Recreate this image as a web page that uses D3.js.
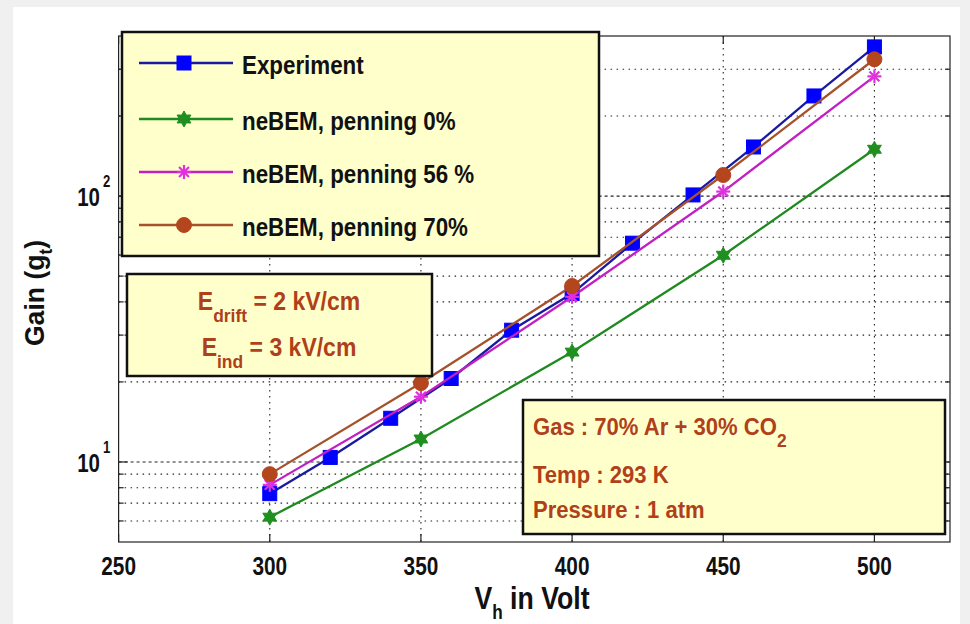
<!DOCTYPE html>
<html><head><meta charset="utf-8">
<script src="https://cdn.jsdelivr.net/npm/d3@7"></script>
<style>body{margin:0;background:#f0f0f0} svg{display:block}</style>
</head><body>
<svg id="chart" width="970" height="624"></svg>
<script>
// Gain vs. hole voltage: measurement and neBEM simulations
const voltsExp = [300, 320, 340, 360, 380, 400, 420, 440, 460, 480, 500];
const gainExp = [7.6, 10.4, 14.6, 20.6, 31.3, 43, 66.5, 101, 153, 238, 364];
const voltsSim = [300, 350, 400, 450, 500];
const gainPen0 = [6.2, 12.2, 25.9, 59.9, 150];
const gainPen56 = [8.2, 17.6, 41.8, 104, 282];
const gainPen70 = [9.0, 19.8, 45.9, 120, 327];
const seriesNames = ["Experiment", "neBEM, penning 0%", "neBEM, penning 56 %", "neBEM, penning 70%"];
const xTicks = [250, 300, 350, 400, 450, 500];
const yMajor = [10, 100];
const yMinor = [6, 7, 8, 9, 20, 30, 40, 50, 60, 70, 80, 90, 200, 300];
const yMajorExp = ["1", "2"];

const svg = d3.select("#chart");
const FONT = "'Liberation Sans', Arial, sans-serif";
const noteColor = "#b0401a";

const plot = {left: 118.6, right: 950, top: 36, bottom: 542};
const x = d3.scaleLinear().domain([250, 525]).range([plot.left, plot.right]);
const y = d3.scaleLog().domain([5, 400]).range([plot.bottom, plot.top]);

// figure background
svg.append("rect").attr("width", 970).attr("height", 624).attr("fill", "#f0f0f0");
svg.append("rect").attr("x", 13).attr("y", 7).attr("width", 947).attr("height", 617).attr("fill", "#ffffff");

// grid
const grid = svg.append("g").attr("stroke", "#222").attr("stroke-width", 1.1).attr("fill", "none");
grid.selectAll("line.v").data(xTicks.slice(1)).join("line")
  .attr("x1", d => x(d)).attr("x2", d => x(d)).attr("y1", plot.top).attr("y2", plot.bottom)
  .attr("stroke-dasharray", "1.5,4.5");
grid.selectAll("line.hmin").data(yMinor).join("line").attr("class", "hmin")
  .attr("x1", plot.left).attr("x2", plot.right).attr("y1", d => y(d)).attr("y2", d => y(d))
  .attr("stroke-dasharray", "1.5,4.5");
grid.selectAll("line.hmaj").data(yMajor).join("line").attr("class", "hmaj")
  .attr("x1", plot.left).attr("x2", plot.right).attr("y1", d => y(d)).attr("y2", d => y(d))
  .attr("stroke-dasharray", "3,3");

// axes box and inward ticks
const axes = svg.append("g").attr("stroke", "#222").attr("stroke-width", 1.2);
axes.append("rect").attr("x", plot.left).attr("y", plot.top)
  .attr("width", plot.right - plot.left).attr("height", plot.bottom - plot.top).attr("fill", "none");
xTicks.forEach(t => {
  axes.append("line").attr("x1", x(t)).attr("x2", x(t)).attr("y1", plot.bottom).attr("y2", plot.bottom - 8);
  axes.append("line").attr("x1", x(t)).attr("x2", x(t)).attr("y1", plot.top).attr("y2", plot.top + 8);
});
[[yMajor, 9], [yMinor, 5]].forEach(([vals, len]) => vals.forEach(v => {
  axes.append("line").attr("x1", plot.left).attr("x2", plot.left + len).attr("y1", y(v)).attr("y2", y(v));
  axes.append("line").attr("x1", plot.right).attr("x2", plot.right - len).attr("y1", y(v)).attr("y2", y(v));
}));

// narrow bold text helper
function condensed(g, px, py, sx, anchor) {
  return g.append("text").attr("transform", `translate(${px},${py}) scale(${sx},1)`)
    .attr("text-anchor", anchor).attr("font-family", FONT).attr("font-weight", "bold");
}

// tick labels
xTicks.forEach(t => {
  condensed(svg, x(t), 575, 0.8, "middle").attr("font-size", 26).attr("fill", "#111").text(d3.format("d")(t));
});
yMajor.forEach((v, i) => {
  condensed(svg, 100, y(v) + 10, 0.82, "end").attr("font-size", 25).attr("fill", "#111").text("10");
  condensed(svg, 103, y(v) - 9, 0.82, "start").attr("font-size", 16).attr("fill", "#111").text(yMajorExp[i]);
});

// axis titles
const xt = condensed(svg, 532, 609, 0.86, "middle").attr("font-size", 31).attr("fill", "#111");
xt.append("tspan").text("V");
xt.append("tspan").attr("font-size", 20).attr("dy", 10).text("h");
xt.append("tspan").attr("dy", -10).text(" in Volt");
const yt = svg.append("text").attr("transform", "translate(44,293) rotate(-90) scale(0.95,1)")
  .attr("text-anchor", "middle").attr("font-family", FONT).attr("font-weight", "bold")
  .attr("font-size", 28).attr("fill", "#111");
yt.append("tspan").text("Gain (g");
yt.append("tspan").attr("font-size", 18).attr("dy", 8).text("t");
yt.append("tspan").attr("dy", -8).text(")");

// markers
function marker(g, type, cx, cy, fill) {
  if (type === "square") {
    g.append("rect").attr("x", cx - 7).attr("y", cy - 7).attr("width", 14).attr("height", 14)
      .attr("fill", fill).attr("stroke", fill);
  } else if (type === "circle") {
    g.append("circle").attr("cx", cx).attr("cy", cy).attr("r", 7.5).attr("fill", fill).attr("stroke", fill);
  } else if (type === "hexagram") {
    const pts = d3.range(12).map(k => {
      const a = -Math.PI / 2 + k * Math.PI / 6, r = k % 2 ? 4.5 : 8;
      return [cx + r * Math.cos(a), cy + r * Math.sin(a)];
    });
    g.append("polygon").attr("points", pts.map(p => p.join(",")).join(" ")).attr("fill", fill).attr("stroke", fill);
  } else if (type === "asterisk") {
    const r = 7, d = r * Math.SQRT1_2;
    [[0, -r, 0, r], [-r, 0, r, 0], [-d, -d, d, d], [-d, d, d, -d]].forEach(s => {
      g.append("line").attr("x1", cx + s[0]).attr("y1", cy + s[1]).attr("x2", cx + s[2]).attr("y2", cy + s[3])
        .attr("stroke", fill).attr("stroke-width", 2.2);
    });
  }
}

const styles = [
  {line: "#1a1aa0", fill: "#0000ff", shape: "square"},
  {line: "#1f8a1f", fill: "#1f8f1f", shape: "hexagram"},
  {line: "#c21fc2", fill: "#e030e0", shape: "asterisk"},
  {line: "#a5522a", fill: "#b4461e", shape: "circle"}
];
const series = [
  voltsExp.map((v, i) => [v, gainExp[i]]),
  voltsSim.map((v, i) => [v, gainPen0[i]]),
  voltsSim.map((v, i) => [v, gainPen56[i]]),
  voltsSim.map((v, i) => [v, gainPen70[i]])
];
const line = d3.line().x(d => x(d[0])).y(d => y(d[1]));
series.forEach((pts, i) => {
  const g = svg.append("g");
  g.append("path").attr("d", line(pts)).attr("fill", "none").attr("stroke", styles[i].line).attr("stroke-width", 2.3);
  pts.forEach(p => marker(g, styles[i].shape, x(p[0]), y(p[1]), styles[i].fill));
});

// legend
const lg = svg.append("g");
lg.append("rect").attr("x", 122).attr("y", 32).attr("width", 477).attr("height", 224)
  .attr("fill", "#ffffcc").attr("stroke", "#111").attr("stroke-width", 2.5);
const rowY = [63, 119, 172, 225];
seriesNames.forEach((name, i) => {
  lg.append("line").attr("x1", 139).attr("x2", 233).attr("y1", rowY[i]).attr("y2", rowY[i])
    .attr("stroke", styles[i].line).attr("stroke-width", 2.5);
  marker(lg, styles[i].shape, 184, rowY[i], styles[i].fill);
  condensed(lg, 242, rowY[i] + 11, 0.86, "start").attr("font-size", 26).attr("fill", "#111").text(name);
});

// field annotation
const fb = svg.append("g");
fb.append("rect").attr("x", 127).attr("y", 274).attr("width", 305).attr("height", 102)
  .attr("fill", "#ffffcc").attr("stroke", "#111").attr("stroke-width", 2.5);
[["drift", "= 2 kV/cm", 310], ["ind", "= 3 kV/cm", 356]].forEach(([sub, rest, by]) => {
  const t = condensed(fb, 279, by, 0.92, "middle").attr("font-size", 25).attr("fill", noteColor);
  t.append("tspan").text("E");
  t.append("tspan").attr("font-size", 19).attr("dy", 12).text(sub);
  t.append("tspan").attr("dy", -12).text(" " + rest);
});

// gas conditions annotation
const gb = svg.append("g");
gb.append("rect").attr("x", 523).attr("y", 400).attr("width", 422).attr("height", 134)
  .attr("fill", "#ffffcc").attr("stroke", "#111").attr("stroke-width", 2.5);
const g1 = condensed(gb, 533, 435, 0.92, "start").attr("font-size", 24).attr("fill", noteColor);
g1.append("tspan").text("Gas : 70% Ar + 30% CO");
g1.append("tspan").attr("font-size", 19).attr("dy", 12).text("2");
condensed(gb, 533, 483, 0.92, "start").attr("font-size", 24).attr("fill", noteColor).text("Temp : 293 K");
condensed(gb, 533, 518, 0.92, "start").attr("font-size", 24).attr("fill", noteColor).text("Pressure : 1 atm");
</script>
</body></html>
